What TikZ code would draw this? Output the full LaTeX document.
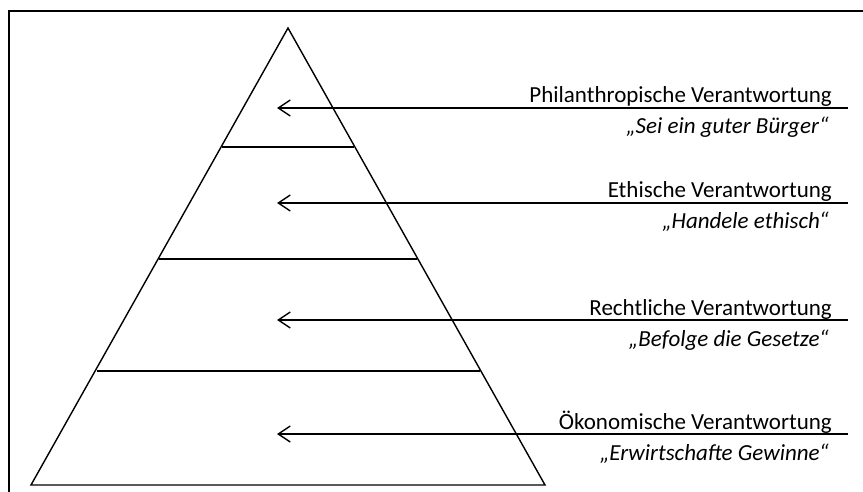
\documentclass[tikz,border=0pt]{standalone}
\usepackage{fontspec}
\setmainfont{Carlito}
\usetikzlibrary{arrows.meta}
\begin{document}
\begin{tikzpicture}[x=1pt,y=-1pt,
  outline/.style={line width=1.4pt,black},
  frame/.style={line width=1.8pt,black},
  pointer/.style={line width=1.4pt,-{Straight Barb[length=12pt,width=16pt,line width=1.4pt]}},
  title/.style={anchor=base east,inner sep=0pt,font=\fontsize{23}{26}\selectfont},
  motto/.style={anchor=base east,inner sep=0pt,font=\fontsize{23}{26}\selectfont\itshape}]
\useasboundingbox (0,0) rectangle (863,492);
\draw[frame] (9,492) -- (9,11) -- (863,11);
% pyramid
\coordinate (apex) at (288,28);
\coordinate (bl) at (31,485);
\coordinate (br) at (545,485);
\draw[outline,line join=miter] (bl) -- (apex) -- (br) -- cycle;
\draw[outline] (221.9,147) -- (354.1,147);
\draw[outline] (159.1,259) -- (416.9,259);
\draw[outline] (96.5,371) -- (479.5,371);
% arrows
\foreach \n/\y in {a/108,b/203,c/320,d/434}{
  \coordinate (s\n) at (848,\y);
  \coordinate (t\n) at (277,\y);
  \draw[pointer] (s\n) -- (t\n);
}
\node[title] (h1) at (832,103) {Philanthropische Verantwortung};
\node[motto] (m1) at (829,134) {„Sei ein guter Bürger“};
\node[title] (h2) at (832,198) {Ethische Verantwortung};
\node[motto] (m2) at (829,229) {„Handele ethisch“};
\node[title] (h3) at (832,315) {Rechtliche Verantwortung};
\node[motto] (m3) at (829,346) {„Befolge die Gesetze“};
\node[title] (h4) at (832,429) {Ökonomische Verantwortung};
\node[motto] (m4) at (829,460) {„Erwirtschafte Gewinne“};
\end{tikzpicture}
\end{document}
